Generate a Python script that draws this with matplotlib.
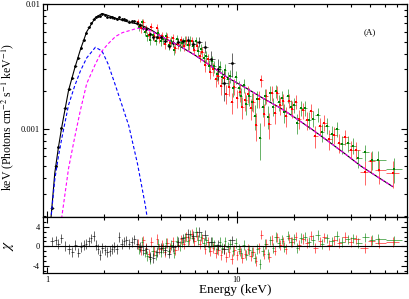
import numpy as np
import matplotlib.pyplot as plt
from matplotlib.ticker import MultipleLocator, NullFormatter, LogLocator

plt.rcParams['font.family'] = ['Liberation Serif', 'DejaVu Serif']
plt.rcParams['mathtext.fontset'] = 'stix'

nan = np.nan

# model components (energy in keV, E*F_E in keV photons cm^-2 s^-1 keV^-1)
model_e = [1.03, 1.05, 1.1, 1.15, 1.2, 1.3, 1.4, 1.5, 1.62, 1.8,
           1.95, 2.1, 2.3, 2.5, 2.7, 3.0, 3.3, 3.6, 4.0, 5.0,
           6.0, 7.5, 9.0, 11.0, 13.5, 17.0, 20.0, 25.0, 30.0, 37.0,
           45.0, 55.0, 66.0]
bb_model = [1.5e-4, 1.9e-4, 3.9e-4, 6.0e-4, 8.5e-4, 1.55e-3, 2.2e-3, 2.9e-3, 3.7e-3, 4.5e-3,
            4.2e-3, 3.3e-3, 2.2e-3, 1.5e-3, 1.05e-3, 5.2e-4, 2.4e-4, 1.0e-4, nan, nan,
            nan, nan, nan, nan, nan, nan, nan, nan, nan, nan,
            nan, nan, nan]
pl_model = [nan, nan, 5e-5, 1.1e-4, 2.0e-4, 4.8e-4, 8.5e-4, 1.4e-3, 2.3e-3, 3.3e-3,
            4.2e-3, 4.8e-3, 5.5e-3, 5.9e-3, 6.1e-3, 6.4e-3, 6.3e-3, 6.0e-3, 5.5e-3, 4.6e-3,
            3.9e-3, 3.1e-3, 2.55e-3, 2.15e-3, 1.78e-3, 1.46e-3, 1.24e-3, 9.8e-4, 8.0e-4, 6.3e-4,
            5.0e-4, 4.1e-4, 3.43e-4]

# black data set: energies, residuals (chi), fractional errors
blk_e = [1.06, 1.11, 1.15, 1.19, 1.25, 1.31, 1.36, 1.41, 1.46, 1.51,
         1.56, 1.61, 1.66, 1.71, 1.76, 1.81, 1.86, 1.91, 1.96, 2.02,
         2.08, 2.14, 2.20, 2.26, 2.33, 2.40, 2.47, 2.54, 2.62, 2.70,
         2.79, 2.88, 2.98, 3.09, 3.21, 3.34, 3.48, 3.63, 3.79, 3.97,
         4.17, 4.39, 4.63, 4.90, 5.20, 5.53, 5.90, 6.32, 6.80, 7.35,
         7.95, 8.60, 9.40]
blk_chi = [1.0, 1.2, 0.4, 1.6, 0.0, -0.6, -1.2, 0.3, -1.3, -0.1,
           0.3, 0.5, 1.0, 1.6, 2.1, 0.3, -0.5, -1.8, -0.3, -0.7,
           -1.2, -1.0, -0.5, -0.1, -0.5, 1.9, 0.5, 1.0, 1.2, 0.5,
           0.9, 1.4, 0.5, -0.1, -0.8, -0.5, -2.2, -2.4, -1.2, -0.3,
           -0.8, -1.5, -0.1, 0.9, 1.6, 2.6, 2.1, 2.9, 2.3, 0.9,
           0.2, -0.5, 1.2]
blk_frac = [0.03, 0.025, 0.02, 0.02, 0.018, 0.018, 0.018, 0.018, 0.018, 0.018,
            0.018, 0.018, 0.018, 0.018, 0.018, 0.018, 0.018, 0.018, 0.018, 0.02,
            0.02, 0.02, 0.02, 0.022, 0.022, 0.022, 0.024, 0.024, 0.025, 0.025,
            0.027, 0.028, 0.03, 0.032, 0.035, 0.038, 0.04, 0.043, 0.046, 0.05,
            0.055, 0.06, 0.065, 0.07, 0.08, 0.09, 0.10, 0.12, 0.14, 0.17,
            0.2, 0.25, 0.3]

# red and green (hard band) data sets
red_e = [3.02, 3.12, 3.22, 3.33, 3.44, 3.55, 3.67, 3.79, 3.91, 4.04,
         4.17, 4.31, 4.45, 4.60, 4.75, 4.91, 5.07, 5.24, 5.41, 5.59,
         5.77, 5.96, 6.16, 6.36, 6.57, 6.79, 7.01, 7.24, 7.48, 7.73,
         7.98, 8.25, 8.52, 8.80, 9.09, 9.39, 9.70, 10.0, 10.4, 10.7,
         11.1, 11.4, 11.8, 12.2, 12.6, 13.0, 13.4, 13.9, 14.3, 14.8,
         15.3, 15.8, 16.3, 16.9, 17.5, 18.1, 18.8, 19.6, 20.4, 21.3,
         22.3, 23.4, 24.6, 25.9, 27.3, 28.9, 30.6, 32.5, 34.6, 37.0,
         39.7, 42.5, 47.0, 51.0, 56.0, 66.0]
red_chi = [0.5, -0.8, 1.2, -0.3, -1.5, 0.8, -1.0, 1.5, -0.6, 0.2,
           -1.2, 0.6, -0.4, 1.0, -0.8, 0.3, 1.4, 0.5, 2.0, 1.2,
           2.5, 1.0, 2.2, 0.4, 1.6, -0.5, 0.8, -1.0, -0.3, -1.4,
           -0.8, -1.8, -0.5, -2.2, -1.2, -2.6, -0.7, -1.9, -1.0, -2.4,
           -1.5, -0.6, -2.0, -1.1, -3.0, -0.4, 2.4, -1.6, 0.5, -2.2,
           1.3, -0.9, 1.8, 0.3, 1.0, -0.5, 1.6, 0.8, 2.0, 0.2,
           1.5, 0.6, 2.2, -0.4, 1.0, 1.8, 0.3, 1.2, 0.7, 1.9,
           0.9, 1.4, -0.3, 1.1, 0.6, 0.9]
green_e = [3.07, 3.17, 3.27, 3.38, 3.49, 3.61, 3.73, 3.85, 3.97, 4.10,
           4.24, 4.38, 4.52, 4.67, 4.83, 4.99, 5.15, 5.32, 5.50, 5.68,
           5.86, 6.06, 6.26, 6.46, 6.68, 6.90, 7.12, 7.36, 7.60, 7.85,
           8.11, 8.38, 8.66, 8.94, 9.24, 9.54, 9.85, 10.2, 10.5, 10.9,
           11.2, 11.6, 12.0, 12.4, 12.8, 13.2, 13.7, 14.1, 14.6, 15.0,
           15.5, 16.0, 16.6, 17.2, 17.8, 18.5, 19.2, 20.0, 20.8, 21.8,
           22.8, 23.9, 25.2, 26.6, 28.1, 29.7, 31.5, 33.5, 35.8, 38.3,
           41.0, 43.5, 47.5, 51.5, 55.5, 67.0]
green_chi = [-0.5, 0.9, -1.3, -2.0, -2.6, -1.0, -1.8, 0.4, -1.2, -0.4,
             0.7, -0.9, 0.2, -1.4, 1.1, 0.0, 0.9, 1.8, 1.1, 2.4,
             1.6, 3.0, 1.3, 2.0, 0.6, 1.2, -0.2, 0.9, 0.3, -0.6,
             0.8, -0.4, 1.0, -0.2, 0.5, -1.0, 0.7, -0.6, -1.4, 0.2,
             -1.8, -0.8, -1.2, -2.4, -0.5, -3.6, -1.0, 0.4, -1.6, 1.2,
             -0.3, 1.9, 0.6, 1.4, -0.2, 2.2, 0.9, 1.5, -0.4, 1.7,
             2.0, 0.8, 1.3, 2.3, 0.5, 1.6, 1.0, 2.1, 0.8, 1.4,
             1.6, 0.6, 1.8, 1.3, 1.5, 1.2]
hard_frac = [0.07, 0.07, 0.07, 0.07, 0.07, 0.075, 0.075, 0.075, 0.08, 0.08,
             0.08, 0.085, 0.085, 0.085, 0.09, 0.09, 0.09, 0.095, 0.095, 0.10,
             0.10, 0.10, 0.10, 0.105, 0.105, 0.11, 0.11, 0.11, 0.115, 0.115,
             0.12, 0.12, 0.12, 0.125, 0.125, 0.13, 0.13, 0.13, 0.135, 0.135,
             0.14, 0.14, 0.14, 0.145, 0.145, 0.15, 0.15, 0.15, 0.155, 0.155,
             0.16, 0.16, 0.16, 0.165, 0.165, 0.17, 0.17, 0.17, 0.175, 0.175,
             0.18, 0.18, 0.18, 0.18, 0.18, 0.19, 0.19, 0.19, 0.19, 0.19,
             0.19, 0.19, 0.2, 0.22, 0.25, 0.32]

model_e = np.array(model_e)
bb_model = np.array(bb_model)
pl_model = np.array(pl_model)
total_model = np.nan_to_num(bb_model) + np.nan_to_num(pl_model)


def model_at(e):
    return 10 ** np.interp(np.log10(e), np.log10(model_e), np.log10(total_model))


def half_widths(e):
    e = np.asarray(e)
    edges = np.sqrt(e[1:] * e[:-1])
    lo = np.concatenate([[e[0] ** 2 / edges[0]], edges])
    hi = np.concatenate([edges, [e[-1] ** 2 / edges[-1]]])
    return np.vstack([e - lo, hi - e])


fig = plt.figure(figsize=(4.09, 2.99), dpi=100)
ax1 = fig.add_axes([0.105, 0.274, 0.890, 0.7124])
ax2 = fig.add_axes([0.105, 0.087, 0.890, 0.187], sharex=ax1)

ax1.plot(model_e, total_model, color='k', lw=0.8, zorder=1)

datasets = [
    (red_e, red_chi, hard_frac, 'red', (1, 0, 0, 0.6), 's', 1.7),
    (green_e, green_chi, hard_frac, 'green', (0, 0.5, 0, 0.6), 's', 1.7),
    (blk_e, blk_chi, blk_frac, 'black', (0, 0, 0, 0.6), 'o', 2.0),
]
for e, chi, frac, col, ecol, mk, ms in datasets:
    e = np.array(e)
    chi = np.array(chi)
    mod = model_at(e)
    err = np.array(frac) * mod
    flux = mod + chi * err
    xerr = half_widths(e)
    ax1.errorbar(e, flux, yerr=err, xerr=xerr, fmt=mk, ms=ms, mew=0, color=col,
                 ecolor=ecol, elinewidth=0.7, capsize=0, zorder=2)
    ax2.errorbar(e, chi, yerr=1.0, xerr=xerr, fmt='none', ecolor=ecol,
                 elinewidth=0.7, capsize=0, zorder=2)

ax1.plot(model_e, bb_model, color='blue', ls=(0, (3, 2)), lw=0.8, zorder=3)
ax1.plot(model_e, pl_model, color='magenta', ls=(0, (3, 2)), lw=0.8, zorder=3)

ax2.axhline(0, color='k', lw=0.8, zorder=3)

ax1.set_xscale('log')
ax1.set_yscale('log')
ax1.set_xlim(0.953, 78.6)
ax1.set_ylim(1.95e-4, 0.01)
ax1.set_yticks([1e-3, 1e-2])
ax1.set_yticklabels(['0.001', '0.01'])
ax1.yaxis.set_minor_locator(LogLocator(subs=np.arange(2, 10)))
ax1.yaxis.set_minor_formatter(NullFormatter())
ax1.tick_params(labelbottom=False)

ax2.set_ylim(-5.5, 6)
ax2.set_yticks([-4, 0, 4])
ax2.set_yticklabels(['-4', '0', '4'])
ax2.yaxis.set_minor_locator(MultipleLocator(1))
ax2.set_xticks([1, 10])
ax2.set_xticklabels(['1', '10'])
ax2.xaxis.set_minor_locator(LogLocator(subs=np.arange(2, 10)))
ax2.xaxis.set_minor_formatter(NullFormatter())

for ax in (ax1, ax2):
    ax.tick_params(which='both', direction='in', top=True, right=True,
                   labelsize=6, width=0.8, pad=2)
    ax.tick_params(which='major', length=4)
    ax.tick_params(which='minor', length=2)
    for s in ax.spines.values():
        s.set_linewidth(0.9)

ax1.set_ylabel('keV (Photons cm$^{-2}$ s$^{-1}$ keV$^{-1}$)', fontsize=8.5)
ax2.set_ylabel(r'$\chi$', fontsize=11)
ax1.yaxis.set_label_coords(-0.075, 0.47)
ax2.yaxis.set_label_coords(-0.075, 0.5)
ax2.set_xlabel('Energy (keV)', fontsize=9.5)
ax2.xaxis.set_label_coords(0.527, -0.2)

ax1.text(0.898, 0.869, '(A)', transform=ax1.transAxes, fontsize=6.5,
         ha='center', va='center')

fig.savefig('out.png', dpi=100)
